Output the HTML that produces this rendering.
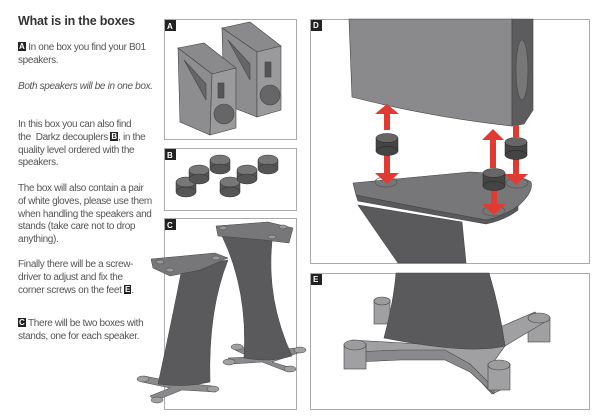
<!DOCTYPE html>
<html><head><meta charset="utf-8"><style>
body{margin:0;width:600px;height:417px;background:#fff;position:relative;overflow:hidden;font-family:"Liberation Sans",sans-serif;color:#555;}
.t{position:absolute;left:18px;font-size:10px;letter-spacing:-0.35px;line-height:12.8px;width:150px;}
h1{position:absolute;left:18px;top:14px;margin:0;font-size:12.5px;color:#333;font-weight:bold;letter-spacing:-0.2px;}
.b{display:inline-block;background:#222;color:#fff;font-size:8px;line-height:9px;padding:0 1px;font-weight:bold;vertical-align:1px;letter-spacing:0;}
svg{position:absolute;left:0;top:0;}
</style></head><body>
<h1>What is in the boxes</h1>
<div class="t" style="top:42px"><span class="b">A</span> In one box you find your B01<br>speakers.</div>
<div class="t" style="top:81px;font-style:italic">Both speakers will be in one box.</div>
<div class="t" style="top:119px">In this box you can also find<br>the&nbsp; Darkz decouplers <span class="b">B</span>, in the<br>quality level ordered with the<br>speakers.</div>
<div class="t" style="top:183px">The box will also contain a pair<br>of white gloves, please use them<br>when handling the speakers and<br>stands (take care not to drop<br>anything).</div>
<div class="t" style="top:259px">Finally there will be a screw-<br>driver to adjust and fix the<br>corner screws on the feet <span class="b">E</span>.</div>
<div class="t" style="top:318px"><span class="b">C</span> There will be two boxes with<br>stands, one for each speaker.</div>
<svg width="600" height="417" viewBox="0 0 600 417">
<g fill="none" stroke="#aaa" stroke-width="1">
<rect x="164.5" y="19.5" width="132" height="120"/>
<rect x="164.5" y="148.5" width="132" height="62"/>
<rect x="164.5" y="218.5" width="132" height="191"/>
<rect x="310.5" y="19.5" width="279" height="244"/>
<rect x="310.5" y="273.5" width="279" height="136"/>
</g>
<g fill="#222"><rect x="165" y="20" width="11" height="11"/><rect x="165" y="149" width="11" height="11"/><rect x="165" y="219" width="11" height="11"/><rect x="311" y="20" width="11" height="11"/><rect x="311" y="274" width="11" height="11"/></g>
<g fill="#fff" font-size="8" font-weight="bold" font-family="Liberation Sans"><text x="167" y="29">A</text><text x="167" y="158">B</text><text x="167" y="228">C</text><text x="313" y="28">D</text><text x="313" y="282">E</text></g>
<!-- A speakers -->
<g stroke="#444" stroke-width=".6">
<polygon points="222,28 257,52 281,46 250,22" fill="#8a8a8c"/>
<polygon points="222,28 257,52 257,117 224,104" fill="#8d8d90"/>
<polygon points="257,52 281,46 281,110 257,117" fill="#9a9a9c"/>
<circle cx="270" cy="95" r="10" fill="#666"/><rect x="265" y="62" width="6" height="15" fill="#555"/>
<polygon points="178,48 212,74 236,68 204,43" fill="#8a8a8c"/>
<polygon points="178,48 212,74 210,135 180,122" fill="#8d8d90"/>
<polygon points="212,74 236,68 236,128 210,135" fill="#9a9a9c"/>
<circle cx="224" cy="114" r="10" fill="#666"/><rect x="218" y="83" width="6" height="15" fill="#555"/>
<polygon points="184,60 206,84 206,100" fill="#666"/>
<polygon points="228,40 250,64 250,80" fill="#666"/>
</g>
<!-- B decouplers -->
<g stroke="#333" stroke-width=".5">
<g fill="#555"><rect x="189" y="170" width="20" height="9"/><rect x="210" y="160" width="20" height="9"/><rect x="258" y="160" width="20" height="9"/><rect x="176" y="182" width="20" height="10"/><rect x="237" y="170" width="20" height="9"/><rect x="220" y="182" width="20" height="10"/></g>
<g fill="#777"><ellipse cx="199" cy="170" rx="10" ry="5"/><ellipse cx="220" cy="160" rx="10" ry="5"/><ellipse cx="268" cy="160" rx="10" ry="5"/><ellipse cx="186" cy="182" rx="10" ry="5"/><ellipse cx="247" cy="170" rx="10" ry="5"/><ellipse cx="230" cy="182" rx="10" ry="5"/></g>
<g fill="#555"><ellipse cx="199" cy="179" rx="10" ry="5"/><ellipse cx="220" cy="169" rx="10" ry="5"/><ellipse cx="268" cy="169" rx="10" ry="5"/><ellipse cx="186" cy="192" rx="10" ry="5"/><ellipse cx="247" cy="179" rx="10" ry="5"/><ellipse cx="230" cy="192" rx="10" ry="5"/></g>
</g>
<!-- C stands -->
<g stroke="#444" stroke-width=".5">
<!-- right stand base -->
<polygon points="237,346 262,352 295,348 301,352 272,362 292,368 288,372 262,362 232,364 228,358 250,357 235,350" fill="#8a8a8c"/>
<!-- right stand column -->
<path d="M222,234 L272,241 Q266,300 292,356 Q270,363 244,358 Q248,290 222,236 Z" fill="#5a5a5c"/>
<polygon points="216,226 268,222 293,228 289,243 264,240 218,236" fill="#77777a"/>
<!-- left stand base -->
<polygon points="144,376 175,382 212,386 216,392 182,390 162,398 156,402 150,396 170,388 142,382" fill="#8a8a8c"/>
<!-- left stand column -->
<path d="M182,268 L228,260 Q208,310 210,382 Q185,388 158,384 Q172,320 182,268 Z" fill="#5a5a5c"/>
<polygon points="151,259 215,253 228,258 200,270 170,276 153,268" fill="#77777a"/>
<g fill="#999"><ellipse cx="160" cy="262" rx="4" ry="2"/><ellipse cx="272" cy="237" rx="4" ry="2"/><ellipse cx="223" cy="228" rx="4" ry="2"/><ellipse cx="170" cy="270" rx="4" ry="2"/><ellipse cx="283" cy="227" rx="4" ry="2"/><ellipse cx="216" cy="258" rx="4" ry="2"/></g>
<g fill="#a0a0a2"><ellipse cx="143" cy="379" rx="6" ry="3"/><ellipse cx="157" cy="400" rx="6" ry="3"/><ellipse cx="213" cy="389" rx="6" ry="3"/><ellipse cx="237" cy="347" rx="6" ry="3"/><ellipse cx="300" cy="350" rx="6" ry="3"/><ellipse cx="290" cy="369" rx="6" ry="3"/><ellipse cx="229" cy="362" rx="6" ry="3"/></g>
</g>
<!-- D -->
<g stroke="#444" stroke-width=".6">
<path d="M358,205 L462,222 L466,263 L398,263 Z" fill="#5a5a5c"/>
<path d="M353,183 L470,172 Q520,174 531,182 Q534,192 518,206 Q505,216 486,220 Q420,208 356,195 Z" fill="#77777a"/>
<path d="M356,195 Q420,208 486,220 Q505,216 518,206 L518,210 Q505,220 486,224 Q420,212 358,201 Z" fill="#5a5a5c"/>
<path d="M349,19 L512,19 L512,126 Q430,117 352,97 Z" fill="#8a8a8d"/>
<path d="M512,19 L533,19 L533,110 L524,124 L512,126 Z" fill="#5c5c5e"/>
<ellipse cx="522" cy="70" rx="6" ry="30" fill="#777"/>
</g>
<g fill="none" stroke="#555" stroke-width=".7"><ellipse cx="386" cy="182" rx="11" ry="5"/><ellipse cx="494" cy="211" rx="11" ry="5"/><ellipse cx="517" cy="183" rx="11" ry="5"/></g>
<g fill="#e03a32">
<rect x="384" y="114" width="6" height="16"/><polygon points="375,114 399,114 387,104"/>
<rect x="384" y="152" width="6" height="22"/><polygon points="375,173 399,173 387,184"/>
<rect x="490" y="138" width="6" height="30"/><polygon points="482,140 504,140 493,129"/>
<rect x="491" y="190" width="6" height="16"/><polygon points="482,204 506,204 494,215"/>
<rect x="513" y="125" width="6" height="12"/>
<rect x="513" y="155" width="6" height="20"/><polygon points="504,174 528,174 516,185"/>
</g>
<g stroke="#222" stroke-width=".5">
<g fill="#444"><rect x="376" y="138" width="22" height="13"/><rect x="483" y="173" width="22" height="13"/><rect x="505" y="142" width="22" height="13"/></g>
<g fill="#666"><ellipse cx="387" cy="138" rx="11" ry="4.5"/><ellipse cx="494" cy="173" rx="11" ry="4.5"/><ellipse cx="516" cy="142" rx="11" ry="4.5"/></g>
<g fill="#444"><ellipse cx="387" cy="151" rx="11" ry="4.5"/><ellipse cx="494" cy="186" rx="11" ry="4.5"/><ellipse cx="516" cy="155" rx="11" ry="4.5"/></g>
</g>
<!-- E -->
<g stroke="#444" stroke-width=".6">
<!-- back-left foot -->
<rect x="374" y="300" width="16" height="24" fill="#a0a0a2"/><ellipse cx="382" cy="301" rx="8" ry="4" fill="#9c9c9e"/>
<!-- right foot -->
<rect x="528" y="318" width="22" height="24" fill="#a0a0a2"/>
<!-- arms top -->
<polygon points="352,340 420,344 460,344 470,340 535,312 545,322 505,346 495,360 505,388 492,394 470,370 445,356 400,356 355,358" fill="#a0a0a2"/>
<polygon points="352,352 400,350 445,350 470,364 494,388 494,394 470,372 445,360 400,360 355,362" fill="#8a8a8c"/>
<!-- column -->
<path d="M396,273 L489,273 Q500,310 505,346 Q470,355 384,338 Q394,300 396,273 Z" fill="#5a5a5c"/>
<!-- feet -->
<rect x="344" y="344" width="22" height="25" fill="#a0a0a2"/><ellipse cx="355" cy="345" rx="11" ry="5" fill="#9c9c9e"/>
<rect x="488" y="364" width="22" height="26" fill="#a0a0a2"/><ellipse cx="499" cy="365" rx="11" ry="5" fill="#9c9c9e"/>
<ellipse cx="539" cy="318" rx="11" ry="5" fill="#9c9c9e"/>
</g>
</svg>
</body></html>
